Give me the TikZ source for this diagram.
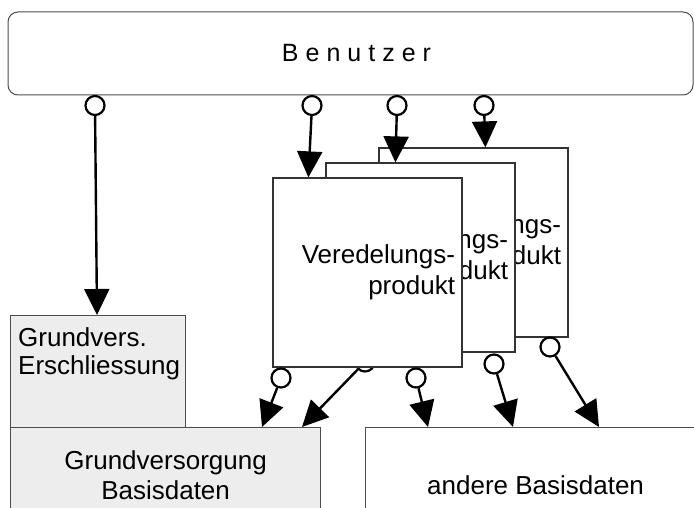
\documentclass[tikz,border=0pt]{standalone}
\usepackage{fontspec}
\setmainfont{Liberation Sans}
\usetikzlibrary{arrows.meta,positioning,calc}

\begin{document}
\begin{tikzpicture}[x=1pt,y=-1pt,node distance=15pt and 53pt,on grid,
    >={Triangle[length=26pt,width=25pt]},
    userbox/.style={draw=black!70,line width=1pt,rounded corners=10pt,
      minimum width=685pt,minimum height=83pt,
      font=\fontsize{25}{28}\selectfont\addfontfeature{LetterSpace=28}},
    prodbox/.style={draw=black!80,line width=1.2pt,fill=white,
      minimum height=189pt,text width=175pt,inner xsep=7pt,align=right,
      font=\fontsize{26}{31}\selectfont},
    basebox/.style={draw=black!70,line width=1.2pt,anchor=north west,
      align=center,font=\fontsize{26}{30}\selectfont},
    ifc/.style={circle,draw,line width=2.2pt,minimum size=19pt,inner sep=0pt},
    flow/.style={->,line width=2.4pt}]
  \useasboundingbox (0,0) rectangle (694,508);

  % user side
  \node[userbox] (user) at (350.5,53.5) {\hspace*{12pt}Benutzer};
  \node[ifc] (ifc1) at (95,105.5)  {};
  \node[ifc] (ifc2) at (312,105.5) {};
  \node[ifc] (ifc3) at (397,105.5) {};
  \node[ifc] (ifc4) at (484,105.5) {};

  % base data
  \node[basebox,fill=black!7,minimum width=175pt,minimum height=112pt] (erschl) at (10,315) {};
  \node[anchor=north west,align=left,inner xsep=8pt,inner ysep=12pt,
        font=\fontsize{26}{28}\selectfont] (erschltxt) at (erschl.north west) {Grundvers.\\Erschliessung};
  \node[basebox,fill=black!7,minimum width=310pt,minimum height=96pt] (grund) at (10,427) {Grundversorgung\\Basisdaten};
  \node[basebox,fill=white,minimum width=340pt,minimum height=116pt] (andere) at (365,427) {andere Basisdaten};

  % stack of products, back to front
  \node[prodbox] (v3) at (473.5,242.5) {Veredelungs-\\produkt};
  \node[ifc] (oe) at (550,347) {};
  \node[prodbox] (v2) [below left=of v3] {Veredelungs-\\produkt};
  \node[ifc] (ob) at (365,362) {};
  \node[ifc] (od) at (494,364) {};
  \coordinate (tb) at ($(grund.north west)+(292,0)$);
  \coordinate (te) at ($(andere.north west)+(234,0)$);
  \coordinate (td) at ($(andere.north west)+(148,0)$);
  \path[flow] (ob) edge (tb)
              (od) edge (td)
              (oe) edge (te);
  \node[prodbox] (v1) [below left=of v2] {Veredelungs-\\produkt};
  \node[ifc] (oa) at (281,378) {};
  \node[ifc] (oc) at (416,378) {};
  \coordinate (ta) at ($(grund.north west)+(252,0)$);
  \coordinate (tc) at ($(andere.north west)+(63,0)$);
  \path[flow] (oa) edge (ta)
              (oc) edge (tc);

  % calls from the user
  \coordinate (t1) at ($(erschl.north west)+(87,0)$);
  \coordinate (t2) at ($(v1.north west)+(36,0)$);
  \coordinate (t3) at ($(v2.north west)+(70,0)$);
  \coordinate (t4) at ($(v3.north west)+(107,0)$);
  \path[flow] (ifc1) edge (t1)
              (ifc2) edge (t2)
              (ifc3) edge (t3)
              (ifc4) edge (t4);
\end{tikzpicture}
\end{document}
